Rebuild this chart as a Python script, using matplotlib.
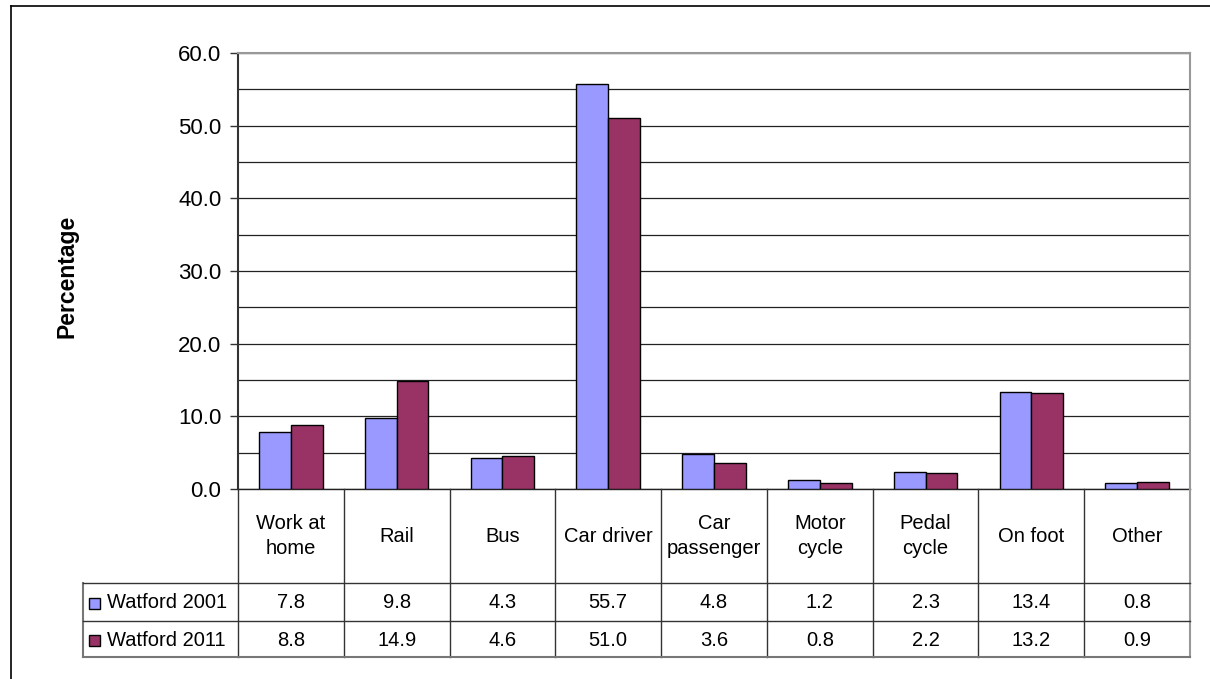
import matplotlib
matplotlib.use("Agg")
import matplotlib.pyplot as plt
from matplotlib.lines import Line2D
from matplotlib.patches import Rectangle

categories = ["Work at\nhome", "Rail", "Bus", "Car driver", "Car\npassenger",
              "Motor\ncycle", "Pedal\ncycle", "On foot", "Other"]
series_names = ["Watford 2001", "Watford 2011"]
watford_2001 = [7.8, 9.8, 4.3, 55.7, 4.8, 1.2, 2.3, 13.4, 0.8]
watford_2011 = [8.8, 14.9, 4.6, 51.0, 3.6, 0.8, 2.2, 13.2, 0.9]
series_values = [watford_2001, watford_2011]
colors = ["#9999FF", "#993366"]
yticks = [0, 10, 20, 30, 40, 50, 60]

plt.rcParams['font.family'] = ['Liberation Sans', 'DejaVu Sans']

W, H = 1210, 679
fig = plt.figure(figsize=(W / 100, H / 100), dpi=100)

def fx(px):
    return px / W

def fy(py):
    return 1 - py / H

# plot area
L, R, T, B = 238, 1190, 53, 489
ax = fig.add_axes([fx(L), fy(B), fx(R) - fx(L), fy(T) - fy(B)])
n = len(categories)
xs = list(range(n))
bw = 0.3
for k, (vals, col) in enumerate(zip(series_values, colors)):
    off = (k - 0.5) * bw
    ax.bar([x + off for x in xs], vals, width=bw, color=col,
           edgecolor="black", linewidth=1.0, zorder=3)
ax.set_xlim(-0.5, n - 0.5)
ax.set_ylim(0, 60)
ax.set_yticks(yticks)
ax.set_yticklabels([f"{v:.1f}" for v in yticks], fontsize=16)
ax.set_yticks(list(range(5, 60, 10)), minor=True)
ax.tick_params(axis='y', which='major', direction='out', length=6, width=1,
               color='#333333', pad=6)
ax.tick_params(axis='y', which='minor', length=0)
ax.set_xticks([])
ax.grid(axis='y', which='both', color='#222222', linewidth=0.9, zorder=0)
ax.spines['left'].set_color('#333333')
ax.spines['left'].set_linewidth(1.5)
ax.spines['bottom'].set_color('#222222')
ax.spines['bottom'].set_linewidth(1.0)
for s in ['top', 'right']:
    ax.spines[s].set_color('#999999')
    ax.spines[s].set_linewidth(1.5)

fig.text(fx(67), fy(276), "Percentage", rotation=90, fontsize=16.5,
         fontweight='bold', ha='center', va='center')

# data table below the plot area
TB = 657
tax = fig.add_axes([fx(L), fy(TB), fx(R) - fx(L), fy(B) - fy(TB)])
tax.set_xlim(-0.5, n - 0.5)
tax.set_ylim(TB, B)
tax.axis('off')
colw = (R - L) / n
hdr_left = -0.5 - (L - 83) / colw
row_y = [B, 583, 621, TB]
lc = '#333333'
# vertical lines
for i in range(n + 1):
    c = '#999999' if i == n else lc
    lw = 1.5 if i == n else 1.0
    tax.add_line(Line2D([i - 0.5, i - 0.5], [B, TB], color=c, lw=lw, clip_on=False))
tax.add_line(Line2D([hdr_left, hdr_left], [row_y[1], TB], color='#777777', lw=1.5, clip_on=False))
# horizontal lines
for yy in row_y[1:]:
    c = '#777777' if yy == TB else lc
    tax.add_line(Line2D([hdr_left, n - 0.5], [yy, yy], color=c, lw=1.0 if yy != TB else 1.5, clip_on=False))
# category labels
for i, cat in enumerate(categories):
    tax.text(i, (row_y[0] + row_y[1]) / 2, cat, ha='center', va='center',
             fontsize=14.5, linespacing=1.45)
# values and row headers
for r, (name, vals, col) in enumerate(zip(series_names, series_values, colors)):
    yc = (row_y[r + 1] + row_y[r + 2]) / 2 + 1
    for i, v in enumerate(vals):
        tax.text(i, yc, f"{v:.1f}", ha='center', va='center', fontsize=14.5)
    sq = 11 / colw
    tax.add_patch(Rectangle((hdr_left + 6 / colw, yc + 5.5), sq, -11,
                            facecolor=col, edgecolor='black', lw=1.0, clip_on=False))
    tax.text(hdr_left + 24 / colw, yc, name, ha='left', va='center', fontsize=14.5)

# outer frame
fig.add_artist(Line2D([fx(11), fx(11)], [0, fy(6)], color='black', lw=1.2))
fig.add_artist(Line2D([fx(11), 1], [fy(6), fy(6)], color='black', lw=1.2))

fig.savefig("out.png", dpi=100)
